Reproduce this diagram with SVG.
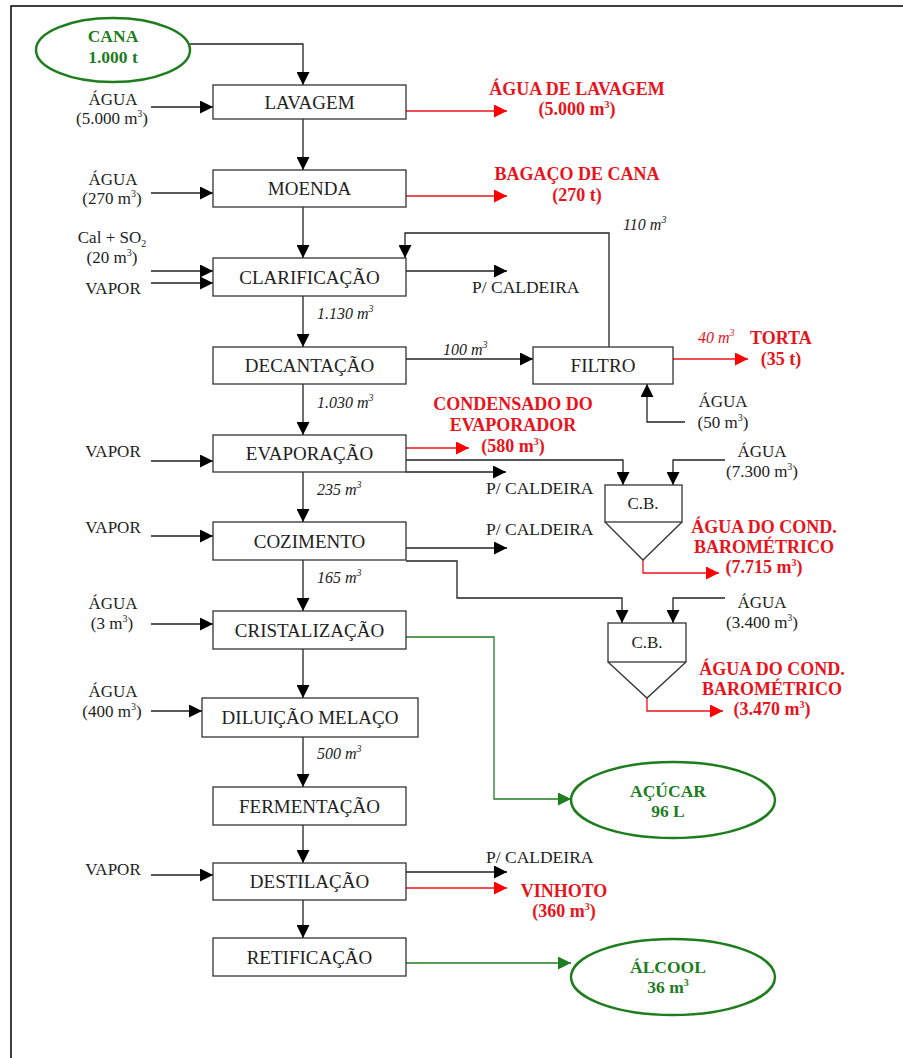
<svg xmlns="http://www.w3.org/2000/svg" width="903" height="1058" viewBox="0 0 903 1058" font-family="Liberation Serif, Times New Roman, Times, serif">
<style>
text{font-family:'Liberation Serif','Times New Roman',Times,serif}
.box{fill:#fff;stroke:#333;stroke-width:1.3}
.lbl{font-size:19px;fill:#222;text-anchor:middle}
.side{font-size:17px;fill:#222;text-anchor:middle}
.cal{font-size:17.5px;fill:#222}
.it{font-size:16px;font-style:italic;fill:#222}
.red{font-size:18px;font-weight:bold;fill:#e8131b;text-anchor:middle}
.reds{font-size:18px;font-weight:bold;fill:#e8131b}
.redit{font-size:16px;font-style:italic;fill:#e8131b}
.grn{font-size:17.5px;font-weight:bold;fill:#1e7d1e;text-anchor:middle}
.sup{font-size:10px}
.ln{fill:none;stroke:#222;stroke-width:1.3;marker-end:url(#ab)}
.lnr{fill:none;stroke:#e8131b;stroke-width:1.3;marker-end:url(#ar)}
.lng{fill:none;stroke:#1e7d1e;stroke-width:1.3;marker-end:url(#ag)}
.plain{fill:none;stroke:#333;stroke-width:1.3}
.ell{fill:#fff;stroke:#1e7d1e;stroke-width:2.5}
</style>
<defs>
<marker id="ab" markerUnits="userSpaceOnUse" markerWidth="13" markerHeight="13" refX="13" refY="6.5" orient="auto"><path d="M0,0 L13,6.5 L0,13 z" fill="#000"/></marker>
<marker id="ar" markerUnits="userSpaceOnUse" markerWidth="13" markerHeight="13" refX="13" refY="6.5" orient="auto"><path d="M0,0 L13,6.5 L0,13 z" fill="#f00"/></marker>
<marker id="ag" markerUnits="userSpaceOnUse" markerWidth="13" markerHeight="13" refX="13" refY="6.5" orient="auto"><path d="M0,0 L13,6.5 L0,13 z" fill="#1e7d1e"/></marker>
</defs>
<rect x="0" y="0" width="903" height="1058" fill="#fff"/>
<path d="M11,1058 V6 H903" fill="none" stroke="#000" stroke-width="1.5"/>

<g id="connectors">
<path class="ln" d="M190,44 H303 V85"/>
<path class="ln" d="M303,119 V170"/>
<path class="ln" d="M303,207 V258"/>
<path class="ln" d="M303,296 V347"/>
<path class="ln" d="M303,384 V435"/>
<path class="ln" d="M303,472 V522"/>
<path class="ln" d="M303,560 V611"/>
<path class="ln" d="M303,649 V698"/>
<path class="ln" d="M303,737 V787"/>
<path class="ln" d="M303,825 V863"/>
<path class="ln" d="M303,900 V938"/>
<path class="ln" d="M151,107 H213"/>
<path class="ln" d="M151,193 H213"/>
<path class="ln" d="M151,271 H213"/>
<path class="ln" d="M151,283 H213"/>
<path class="ln" d="M151,461 H213"/>
<path class="ln" d="M151,536 H213"/>
<path class="ln" d="M151,624 H213"/>
<path class="ln" d="M151,711 H202"/>
<path class="ln" d="M151,875 H213"/>
<path class="lnr" d="M406,111 H507"/>
<path class="lnr" d="M406,196 H507"/>
<path class="ln" d="M609,347 V233 H405 V258"/>
<path class="ln" d="M406,271 H507"/>
<path class="ln" d="M406,359 H533"/>
<path class="lnr" d="M673,359 H748"/>
<path class="ln" d="M685,422 H647 V384"/>
<path class="lnr" d="M406,448 H469"/>
<path class="ln" d="M406,460 H623 V485"/>
<path class="ln" d="M406,472 H506"/>
<path class="ln" d="M725,460 H673 V485"/>
<path class="lnr" d="M643,560 V573 H719"/>
<path class="ln" d="M406,548 H507"/>
<path class="ln" d="M406,561 H457 V598 H622 V623"/>
<path class="ln" d="M725,598 H673 V623"/>
<path class="lnr" d="M647,698 V711 H723"/>
<path class="lng" d="M406,637 H494 V799 H571"/>
<path class="ln" d="M406,872 H507"/>
<path class="lnr" d="M406,888 H507"/>
<path class="lng" d="M406,963 H571"/>
</g>

<g id="cana"><ellipse class="ell" cx="113" cy="50" rx="77" ry="32"/><text class="grn" x="113" y="42">CANA</text><text class="grn" x="113" y="63">1.000 t</text></g>
<g id="lavagem"><rect class="box" x="213" y="85" width="193" height="34"/><text class="lbl" x="309.5" y="108.5">LAVAGEM</text></g>
<g id="moenda"><rect class="box" x="213" y="170" width="193" height="37"/><text class="lbl" x="309.5" y="195">MOENDA</text></g>
<g id="clarificacao"><rect class="box" x="213" y="258" width="193" height="38"/><text class="lbl" x="309.5" y="283.5">CLARIFICAÇÃO</text></g>
<g id="decantacao"><rect class="box" x="213" y="347" width="193" height="37"/><text class="lbl" x="309.5" y="372">DECANTAÇÃO</text></g>
<g id="evaporacao"><rect class="box" x="213" y="435" width="193" height="37"/><text class="lbl" x="309.5" y="460">EVAPORAÇÃO</text></g>
<g id="cozimento"><rect class="box" x="213" y="522" width="193" height="38"/><text class="lbl" x="309.5" y="547.5">COZIMENTO</text></g>
<g id="cristalizacao"><rect class="box" x="213" y="611" width="193" height="38"/><text class="lbl" x="309.5" y="636.5">CRISTALIZAÇÃO</text></g>
<g id="diluicao"><rect class="box" x="202" y="698" width="216" height="39"/><text class="lbl" x="310" y="724">DILUIÇÃO MELAÇO</text></g>
<g id="fermentacao"><rect class="box" x="213" y="787" width="193" height="38"/><text class="lbl" x="309.5" y="812.5">FERMENTAÇÃO</text></g>
<g id="destilacao"><rect class="box" x="213" y="863" width="193" height="37"/><text class="lbl" x="309.5" y="888">DESTILAÇÃO</text></g>
<g id="retificacao"><rect class="box" x="213" y="938" width="193" height="38"/><text class="lbl" x="309.5" y="963.5">RETIFICAÇÃO</text></g>
<g id="filtro"><rect class="box" x="533" y="347" width="140" height="37"/><text class="lbl" x="603" y="372">FILTRO</text></g>
<g id="cb1"><rect class="box" x="605" y="485" width="77" height="37"/><path class="plain" d="M605,522 L643,560 L682,522"/><text class="side" x="643" y="509">C.B.</text></g>
<g id="cb2"><rect class="box" x="608" y="623" width="78" height="39"/><path class="plain" d="M608,662 L647,698 L686,662"/><text class="side" x="647" y="648">C.B.</text></g>
<g id="acucar"><ellipse class="ell" cx="673" cy="800" rx="102" ry="38"/><text class="grn" x="668" y="797">AÇÚCAR</text><text class="grn" x="668" y="817">96 L</text></g>
<g id="alcool"><ellipse class="ell" cx="673" cy="977" rx="102" ry="38"/><text class="grn" x="668" y="973">ÁLCOOL</text><text class="grn" x="668" y="993">36 m<tspan class="sup" dy="-7">3</tspan></text></g>

<g id="labels">
<text class="side" x="113" y="105">ÁGUA</text>
<text class="side" x="112" y="124">(5.000 m<tspan class="sup" dy="-7">3</tspan><tspan dy="7">)</tspan></text>
<text class="side" x="113" y="185">ÁGUA</text>
<text class="side" x="112" y="204">(270 m<tspan class="sup" dy="-7">3</tspan><tspan dy="7">)</tspan></text>
<text class="side" x="112" y="243">Cal + SO<tspan class="sup" dy="4">2</tspan></text>
<text class="side" x="112" y="263">(20 m<tspan class="sup" dy="-7">3</tspan><tspan dy="7">)</tspan></text>
<text class="side" x="113" y="294">VAPOR</text>
<text class="side" x="113" y="457">VAPOR</text>
<text class="side" x="113" y="533">VAPOR</text>
<text class="side" x="113" y="609">ÁGUA</text>
<text class="side" x="112" y="629">(3 m<tspan class="sup" dy="-7">3</tspan><tspan dy="7">)</tspan></text>
<text class="side" x="113" y="697">ÁGUA</text>
<text class="side" x="112" y="717">(400 m<tspan class="sup" dy="-7">3</tspan><tspan dy="7">)</tspan></text>
<text class="side" x="113" y="875">VAPOR</text>

<text class="red" x="577" y="95">ÁGUA DE LAVAGEM</text>
<text class="red" x="577" y="115">(5.000 m<tspan class="sup" dy="-7">3</tspan><tspan dy="7">)</tspan></text>
<text class="red" x="577" y="180">BAGAÇO DE CANA</text>
<text class="red" x="577" y="201">(270 t)</text>
<text class="it" x="623" y="230">110 m<tspan class="sup" dy="-7">3</tspan></text>
<text class="cal" x="472" y="293">P/ CALDEIRA</text>
<text class="it" x="317" y="319">1.130 m<tspan class="sup" dy="-7">3</tspan></text>
<text class="it" x="443" y="355">100 m<tspan class="sup" dy="-7">3</tspan></text>
<text class="redit" x="698" y="343">40 m<tspan class="sup" dy="-7">3</tspan></text>
<text class="reds" x="750" y="344">TORTA</text>
<text class="red" x="781" y="365">(35 t)</text>
<text class="side" x="723" y="407">ÁGUA</text>
<text class="side" x="723" y="428">(50 m<tspan class="sup" dy="-7">3</tspan><tspan dy="7">)</tspan></text>
<text class="it" x="317" y="408">1.030 m<tspan class="sup" dy="-7">3</tspan></text>
<text class="red" x="513" y="410">CONDENSADO DO</text>
<text class="red" x="513" y="431">EVAPORADOR</text>
<text class="red" x="513" y="452">(580 m<tspan class="sup" dy="-7">3</tspan><tspan dy="7">)</tspan></text>
<text class="side" x="762" y="457">ÁGUA</text>
<text class="side" x="762" y="477">(7.300 m<tspan class="sup" dy="-7">3</tspan><tspan dy="7">)</tspan></text>
<text class="cal" x="486" y="494">P/ CALDEIRA</text>
<text class="it" x="317" y="495">235 m<tspan class="sup" dy="-7">3</tspan></text>
<text class="red" x="764" y="533">ÁGUA DO COND.</text>
<text class="red" x="764" y="553">BAROMÉTRICO</text>
<text class="red" x="764" y="573">(7.715 m<tspan class="sup" dy="-7">3</tspan><tspan dy="7">)</tspan></text>
<text class="cal" x="486" y="535">P/ CALDEIRA</text>
<text class="it" x="317" y="583">165 m<tspan class="sup" dy="-7">3</tspan></text>
<text class="side" x="762" y="608">ÁGUA</text>
<text class="side" x="762" y="628">(3.400 m<tspan class="sup" dy="-7">3</tspan><tspan dy="7">)</tspan></text>
<text class="red" x="772" y="675">ÁGUA DO COND.</text>
<text class="red" x="772" y="695">BAROMÉTRICO</text>
<text class="red" x="772" y="715">(3.470 m<tspan class="sup" dy="-7">3</tspan><tspan dy="7">)</tspan></text>
<text class="it" x="317" y="759">500 m<tspan class="sup" dy="-7">3</tspan></text>
<text class="cal" x="486" y="863">P/ CALDEIRA</text>
<text class="red" x="564" y="897">VINHOTO</text>
<text class="red" x="564" y="917">(360 m<tspan class="sup" dy="-7">3</tspan><tspan dy="7">)</tspan></text>
</g>
</svg>
